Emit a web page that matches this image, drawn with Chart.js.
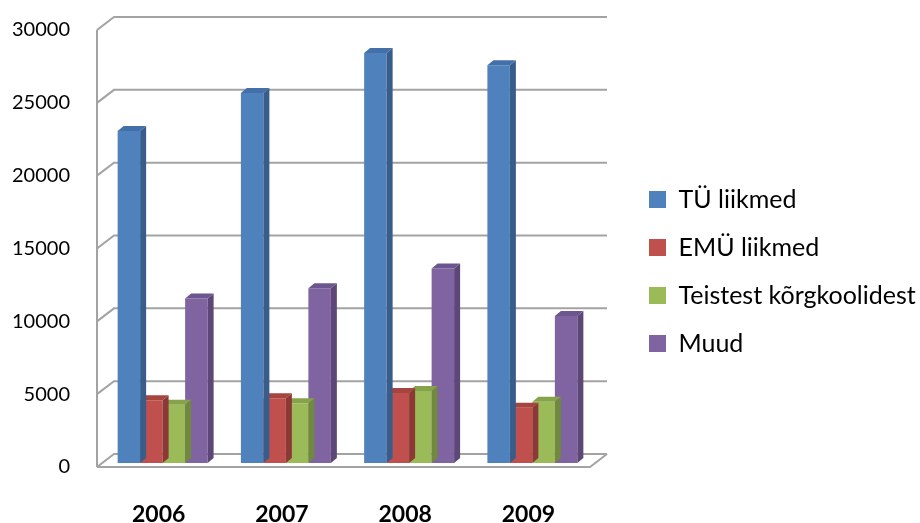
<!DOCTYPE html>
<html>
<head>
<meta charset="utf-8">
<script src="https://cdn.jsdelivr.net/npm/chart.js@4.4.1/dist/chart.umd.min.js"></script>
<style>
  html, body { margin: 0; padding: 0; background: #fff; }
  #wrap { width: 920px; height: 523px; }
</style>
</head>
<body>
<div id="wrap"><canvas id="grafik" width="920" height="523"></canvas></div>
<script>
// ================================
// ANDMED
// ================================
const aastad = ["2006", "2007", "2008", "2009"];
const tuLiikmed = [22800, 25400, 28150, 27300];
const emuLiikmed = [4300, 4450, 4800, 3800];
const teistestKorgkoolidest = [4000, 4100, 4950, 4200];
const muud = [11300, 12000, 13350, 10100];
const yTicks = [0, 5000, 10000, 15000, 20000, 25000, 30000];
const seeriaNimed = ["TÜ liikmed", "EMÜ liikmed", "Teistest kõrgkoolidest", "Muud"];

// värvid (esikülg, külg, pealmine)
const varvid = ["#4f81bd", "#c0504d", "#9bbb59", "#8064a2"];
const kulgVarvid = ["#385d8a", "#8c3836", "#71893f", "#5c4776"];
const pealVarvid = ["#4470aa", "#a6443f", "#86a34b", "#6d5590"];

// ================================
// 3D MÕÕDUD
// ================================
const SEIN_DX = 17, SEIN_DY = -13;      // tagasein
const TULP_DX = 6, TULP_DY = -5;        // tulba sügavus
const NIHE_X = 4, NIHE_Y = -4;          // tulbad veidi seinast eespool
const LEGENDI_LAIUS = 330;
const LEGENDI_VAHE = 36;
const LEGENDI_TOUS = 5;

// seinad, ruudustik ja põrand + tulpade külg/pealmine pind
const ruum3d = {
  id: "ruum3d",
  beforeDatasetsDraw(chart) {
    const { ctx, chartArea: a, scales: { y } } = chart;
    const p0 = y.getPixelForValue(0);
    ctx.save();
    ctx.strokeStyle = "#a3a3a3";
    ctx.lineWidth = 2;
    ctx.beginPath();
    ctx.moveTo(a.left, y.getPixelForValue(yTicks[yTicks.length - 1]));
    ctx.lineTo(a.left, p0);
    yTicks.forEach((v) => {
      const py = y.getPixelForValue(v);
      ctx.moveTo(a.left, py);
      ctx.lineTo(a.left + SEIN_DX, py + SEIN_DY);
      ctx.lineTo(a.right + SEIN_DX, py + SEIN_DY);
    });
    ctx.moveTo(a.left, p0);
    ctx.lineTo(a.right, p0);
    ctx.lineTo(a.right + SEIN_DX, p0 + SEIN_DY);
    ctx.stroke();
    ctx.restore();

    ctx.save();
    ctx.translate(NIHE_X, NIHE_Y);
  },
  afterDatasetDraw(chart, args) {
    const { ctx } = chart;
    const i = args.index;
    args.meta.data.forEach((el) => {
      const { x, y, base, width } = el.getProps(["x", "y", "base", "width"], true);
      const l = x - width / 2, r = x + width / 2;
      // külg
      ctx.fillStyle = kulgVarvid[i];
      ctx.beginPath();
      ctx.moveTo(r, y);
      ctx.lineTo(r + TULP_DX, y + TULP_DY);
      ctx.lineTo(r + TULP_DX, base + TULP_DY);
      ctx.lineTo(r, base);
      ctx.closePath();
      ctx.fill();
      // pealmine
      ctx.fillStyle = pealVarvid[i];
      ctx.beginPath();
      ctx.moveTo(l, y);
      ctx.lineTo(l + TULP_DX, y + TULP_DY);
      ctx.lineTo(r + TULP_DX, y + TULP_DY);
      ctx.lineTo(r, y);
      ctx.closePath();
      ctx.fill();
    });
  },
  afterDatasetsDraw(chart) {
    chart.ctx.restore();
  },
};

// legend paremale, vahega
const legendiNihe = {
  id: "legendiNihe",
  beforeInit(chart) {
    const fit = chart.legend.fit;
    chart.legend.fit = function () {
      fit.call(this);
      this.width = LEGENDI_LAIUS;
    };
  },
  afterLayout(chart) {
    const lg = chart.legend;
    lg.left += LEGENDI_VAHE;
    lg.right += LEGENDI_VAHE;
    lg.top -= LEGENDI_TOUS;
    lg.bottom -= LEGENDI_TOUS;
  },
};

const seeriad = [tuLiikmed, emuLiikmed, teistestKorgkoolidest, muud];

new Chart(document.getElementById("grafik"), {
  type: "bar",
  data: {
    labels: aastad,
    datasets: seeriad.map((andmed, i) => ({
      label: seeriaNimed[i],
      data: andmed,
      backgroundColor: varvid[i],
      borderWidth: 0,
      categoryPercentage: 0.73,
      barPercentage: 1.0,
      clip: false,
    })),
  },
  options: {
    responsive: false,
    animation: false,
    layout: { padding: { top: 30, left: 0, right: 0, bottom: 0 } },
    plugins: {
      tooltip: { enabled: false },
      legend: {
        position: "right",
        labels: {
          boxWidth: 17,
          boxHeight: 17,
          padding: 23,
          color: "#000",
          font: { family: "Lato", size: 25 },
        },
      },
    },
    scales: {
      x: {
        grid: { display: false, drawTicks: false },
        border: { display: false },
        ticks: { color: "#000", padding: 34, font: { family: "Lato", size: 23, weight: "bold" } },
        afterFit: (s) => { s.height = 56; },
      },
      y: {
        min: 0,
        max: 30000,
        grid: { display: false, drawTicks: false },
        border: { display: false },
        ticks: {
          stepSize: 5000,
          color: "#000",
          padding: 27,
          font: { family: "Lato", size: 20 },
          callback: (v) => String(v),
        },
        afterFit: (s) => { s.width = 97; s.paddingTop = 0; s.paddingBottom = 0; },
      },
    },
  },
  plugins: [ruum3d, legendiNihe],
});
</script>
</body>
</html>
